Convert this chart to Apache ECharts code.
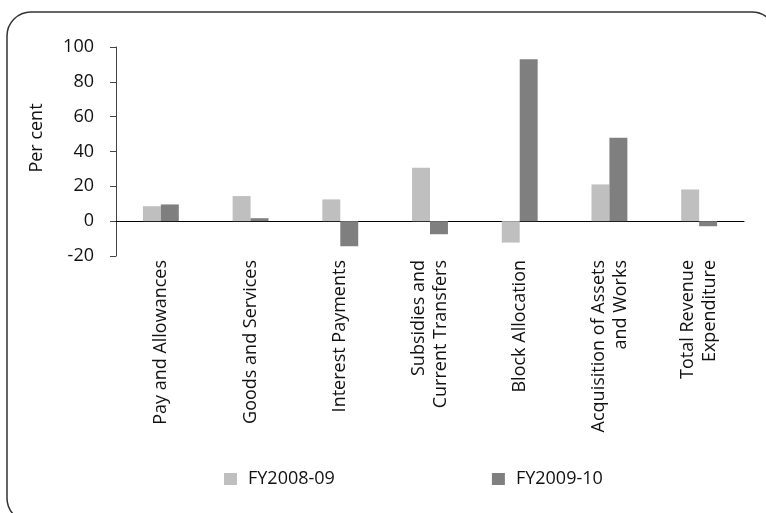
<!DOCTYPE html>
<html>
<head>
<meta charset="utf-8">
<script src="https://cdn.jsdelivr.net/npm/echarts@6/dist/echarts.min.js"></script>
<style>html,body{margin:0;padding:0;background:#fff}#c{width:766px;height:513px}</style>
</head>
<body>
<div id="c"></div>
<script>
const categories = [
  "Pay and Allowances",
  "Goods and Services",
  "Interest Payments",
  "Subsidies and\nCurrent Transfers",
  "Block Allocation",
  "Acquisition of Assets\nand Works",
  "Total Revenue\nExpenditure"
];
const seriesNames = ["FY2008-09", "FY2009-10"];
const fy0809 = [8.6, 14.4, 12.5, 30.6, -12.3, 21.1, 18.2];
const fy0910 = [9.6, 1.7, -14.4, -7.5, 92.9, 47.9, -2.9];
const yTicks = { min: -20, max: 100, interval: 20 };

const FONT = "Open Sans";
const TXT = "#111";
const chart = echarts.init(document.getElementById('c'), null, { renderer: 'canvas' });
chart.setOption({
  animation: false,
  backgroundColor: '#fff',
  textStyle: { fontFamily: FONT, color: TXT },
  grid: { left: 116, right: 22, top: 47, bottom: 257, containLabel: false },
  legend: {
    data: seriesNames,
    left: 219, top: 465,
    icon: 'rect', itemWidth: 13, itemHeight: 12, itemGap: 157,
    textStyle: { fontFamily: FONT, fontSize: 18, color: TXT, padding: [0, 0, 0, 6] }
  },
  xAxis: [
    {
      type: 'category', data: categories,
      axisLine: { onZero: true, lineStyle: { color: '#000', width: 1 } },
      axisTick: { show: false }, axisLabel: { show: false }
    },
    {
      type: 'category', data: categories, position: 'bottom',
      axisLine: { show: false, onZero: false }, axisTick: { show: false },
      axisLabel: { rotate: 90, margin: 4, interval: 0, fontFamily: FONT, fontSize: 18, color: TXT, lineHeight: 22 }
    }
  ],
  yAxis: {
    type: 'value', min: yTicks.min, max: yTicks.max, interval: yTicks.interval,
    axisLine: { show: true, onZero: false, lineStyle: { color: '#444', width: 1 } },
    axisTick: { show: true, inside: false, length: 6, lineStyle: { color: '#444' } },
    splitLine: { show: false },
    axisLabel: { margin: 22, fontFamily: FONT, fontSize: 18, color: TXT }
  },
  series: [
    { name: seriesNames[0], type: 'bar', data: fy0809, xAxisIndex: 0,
      barGap: '0%', barCategoryGap: '60%', itemStyle: { color: '#bfbfbf' } },
    { name: seriesNames[1], type: 'bar', data: fy0910, xAxisIndex: 0,
      barGap: '0%', barCategoryGap: '60%', itemStyle: { color: '#7f7f7f' } }
  ],
  graphic: [
    { type: 'rect', z: -1, silent: true,
      shape: { x: 7, y: 12, width: 769, height: 510, r: 24 },
      style: { fill: 'none', stroke: '#333', lineWidth: 1.5 } },
    { type: 'text', x: 37, y: 138, rotation: Math.PI / 2,
      style: { text: 'Per cent', fontFamily: FONT, fontSize: 18, fill: TXT, align: 'center', verticalAlign: 'middle' } }
  ]
});
</script>
</body>
</html>
